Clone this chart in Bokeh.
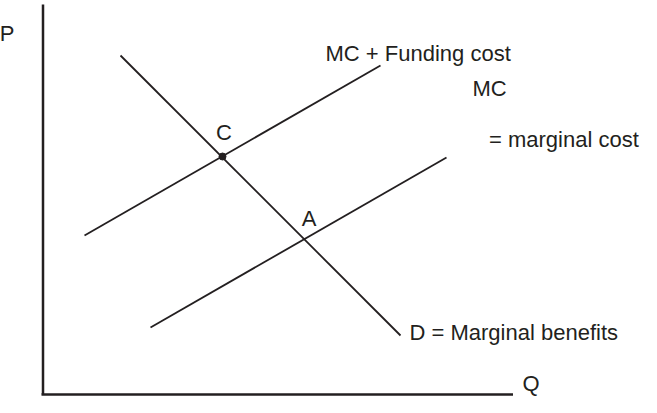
from bokeh.plotting import figure
from bokeh.models import Range1d, ColumnDataSource
from bokeh.embed import file_html
from bokeh.resources import INLINE
from bokeh.core.properties import value

# ---- data (Q, P units) ----
axis_q_max = 47.0
axis_p_max = 39.0

demand_q = [7.75, 35.75]
demand_p = [33.9, 5.9]

mc_funding_q = [4.15, 33.75]
mc_funding_p = [15.9, 32.9]

mc_q = [10.75, 40.35]
mc_p = [6.7, 23.7]

point_c_q = [17.95]
point_c_p = [23.8]

label_texts = ["P", "Q", "C", "A", "MC + Funding cost", "MC", "= marginal cost", "D = Marginal benefits"]
label_q = [-3.6, 48.8, 18.1, 26.6, 28.25, 42.95, 44.6, 36.65]
label_p = [36.1, 1.1, 26.2, 17.6, 34.1, 30.6, 25.5, 6.2]
label_align = ["center", "center", "center", "center", "left", "left", "left", "left"]

INK = "#231f20"

p = figure(width=641, height=397, output_backend="svg", toolbar_location=None,
           x_range=Range1d(-4.25, 59.85), y_range=Range1d(-0.3, 39.4),
           min_border=0, outline_line_color=None)
p.xaxis.visible = False
p.yaxis.visible = False
p.grid.visible = False

# axes
p.line([0, 0], [0, axis_p_max], line_color=INK, line_width=2.5)
p.line([-0.15, axis_q_max], [0, 0], line_color=INK, line_width=2.5)

# curves
p.line(demand_q, demand_p, line_color=INK, line_width=1.8)
p.line(mc_funding_q, mc_funding_p, line_color=INK, line_width=1.8)
p.line(mc_q, mc_p, line_color=INK, line_width=1.8)

p.scatter(point_c_q, point_c_p, size=7, fill_color=INK, line_color=INK)

src = ColumnDataSource(dict(x=label_q, y=label_p, t=label_texts, a=label_align))
p.text(x="x", y="y", text="t", text_align="a", text_baseline="middle", source=src,
       text_font=value("Liberation Sans"), text_font_size="22px", text_color=INK)

open("out.html", "w").write(file_html(p, INLINE))
